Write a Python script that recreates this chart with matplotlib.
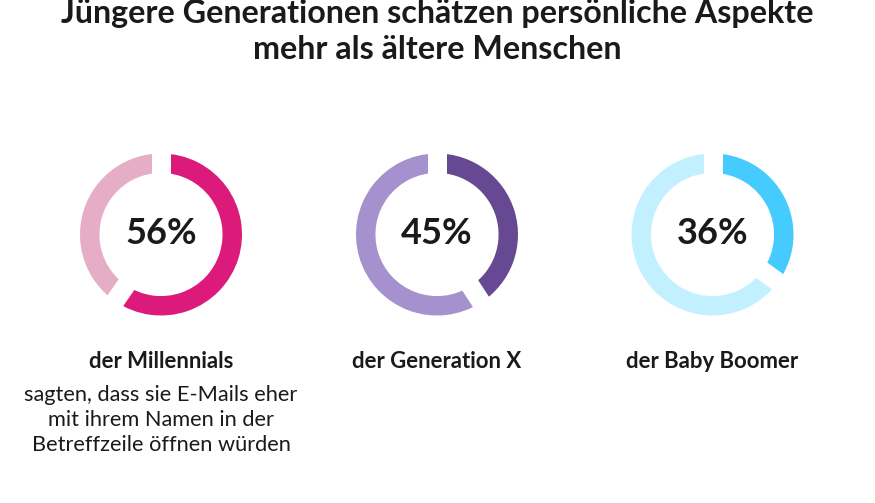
import matplotlib
matplotlib.use("Agg")
import matplotlib.pyplot as plt
import numpy as np

title_lines = ["Jüngere Generationen schätzen persönliche Aspekte", "mehr als ältere Menschen"]
percents = [56, 45, 36]
arc_shares = [59.6, 40.8, 35.0]
labels = ["der Millennials", "der Generation X", "der Baby Boomer"]
main_colors = ["#DB1A7B", "#664893", "#45CBFD"]
light_colors = ["#E6ADC7", "#A591CD", "#C2F0FF"]
note_lines = ["sagten, dass sie E-Mails eher", "mit ihrem Namen in der", "Betreffzeile öffnen würden"]
centers_x = [161, 437, 712.5]

W, H = 875, 503
plt.rcParams['font.family'] = ['Lato', 'DejaVu Sans']
fig = plt.figure(figsize=(W/100, H/100), dpi=100)
bg = fig.add_axes([0, 0, 1, 1])
bg.set_xlim(0, W); bg.set_ylim(H, 0); bg.axis('off')

bg.text(437, 13, title_lines[0], ha='center', va='center', fontsize=23.2, fontweight='bold', color='#1a1a1a')
bg.text(437, 49, title_lines[1], ha='center', va='center', fontsize=23.2, fontweight='bold', color='#1a1a1a')

R = 81
gap_px = 19
for cx, p, s, lab, mc, lc in zip(centers_x, percents, arc_shares, labels, main_colors, light_colors):
    ax = fig.add_axes([(cx-R)/W, 1-(234.5+R)/H, 2*R/W, 2*R/H])
    ax.pie([s, 100-s], colors=[mc, lc], startangle=90, counterclock=False, radius=1,
           wedgeprops=dict(width=0.24, linewidth=0))
    ax.set_xlim(-1, 1); ax.set_ylim(-1, 1)
    # white straight-sided gaps at the two slice boundaries
    for share in (0, s):
        a = np.pi/2 - 2*np.pi*share/100
        ax.plot([0.6*np.cos(a), 1.1*np.cos(a)], [0.6*np.sin(a), 1.1*np.sin(a)],
                color='white', lw=gap_px*0.72, solid_capstyle='butt', clip_on=False)
    bg.text(cx, 233, f"{p}%", ha='center', va='center', fontsize=26, fontweight='bold', color='#1a1a1a')
    bg.text(cx, 362, lab, ha='center', va='center', fontsize=15.9, fontweight='bold', color='#1a1a1a')

for i, line in enumerate(note_lines):
    bg.text(161, 395 + i*25, line, ha='center', va='center', fontsize=15.7, color='#1a1a1a')

fig.savefig("out.png", dpi=100, facecolor='white')
